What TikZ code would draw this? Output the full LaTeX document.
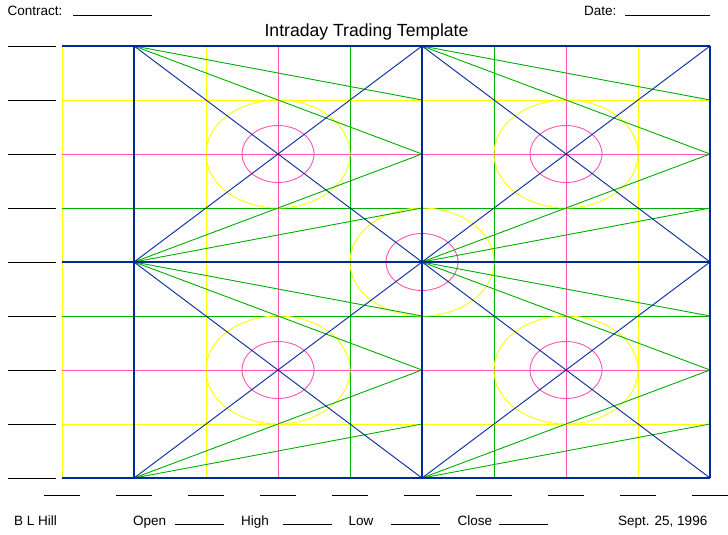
\documentclass[tikz,border=0pt]{standalone}
\usepackage{fontspec}
\setmainfont{Liberation Sans}
\definecolor{gblue}{RGB}{0,40,155}
\definecolor{ggreen}{RGB}{0,176,0}
\definecolor{gyellow}{RGB}{255,255,0}
\definecolor{gpink}{RGB}{255,85,176}
\begin{document}
\begin{tikzpicture}[x=1pt,y=-1pt,
  gline/.style={line width=0.9pt},
  yl/.style={gline,draw=gyellow},
  pk/.style={gline,draw=gpink},
  gr/.style={gline,draw=ggreen},
  bl/.style={gline,draw=gblue},
  bigblue/.style={draw=gblue,line width=2.9pt},
  tick/.style={draw=black,line width=0.9pt},
  lbl/.style={anchor=base west,inner sep=0pt,font=\fontsize{13.5}{15}\selectfont},
  ttl/.style={anchor=base,inner sep=0pt,font=\fontsize{17.6}{20}\selectfont}]
\useasboundingbox (0,0) rectangle (728,535);
\fill[white] (0,0) rectangle (728,535);
% grid points
\foreach \i in {0,...,9}
  \foreach \j in {0,...,8}
    \coordinate (g-\i-\j) at ({62+72*\i},{46+54*\j});
% thin vertical lines
\draw[yl] (g-0-0) -- (g-0-8);
\draw[yl] (g-2-0) -- (g-2-8);
\draw[pk] (g-3-0) -- (g-3-8);
\draw[gr] (g-4-0) -- (g-4-8);
\draw[gr] (g-6-0) -- (g-6-8);
\draw[pk] (g-7-0) -- (g-7-8);
\draw[yl] (g-8-0) -- (g-8-8);
% thin horizontal lines
\draw[yl] (g-0-1) -- (g-9-1);
\draw[pk] (g-0-2) -- (g-9-2);
\draw[gr] (g-0-3) -- (g-9-3);
\draw[gr] (g-0-5) -- (g-9-5);
\draw[pk] (g-0-6) -- (g-9-6);
\draw[yl] (g-0-7) -- (g-9-7);
% ellipses
\foreach \c in {g-3-2,g-7-2,g-3-6,g-7-6,g-5-4}{
  \draw[yl] (\c) ellipse [x radius=72pt, y radius=54pt];
  \draw[pk] (\c) ellipse [x radius=36pt, y radius=28.5pt];
}
% green fans and blue diagonals
\foreach \a/\b in {1/5,5/9}{
  \draw[gr] (g-\a-0) -- (g-\b-1);
  \draw[gr] (g-\a-0) -- (g-\b-2);
  \draw[gr] (g-\a-4) -- (g-\b-2);
  \draw[gr] (g-\a-4) -- (g-\b-3);
  \draw[gr] (g-\a-4) -- (g-\b-5);
  \draw[gr] (g-\a-4) -- (g-\b-6);
  \draw[gr] (g-\a-8) -- (g-\b-6);
  \draw[gr] (g-\a-8) -- (g-\b-7);
  \draw[bl] (g-\a-0) -- (g-\b-4);
  \draw[bl] (g-\a-4) -- (g-\b-0);
  \draw[bl] (g-\a-4) -- (g-\b-8);
  \draw[bl] (g-\a-8) -- (g-\b-4);
}
% thick blue lines
\draw[bigblue] (g-0-0) -- (g-9-0);
\draw[bigblue] (g-0-4) -- (g-9-4);
\draw[bigblue] (g-0-8) -- (g-9-8);
\draw[bigblue] (g-1-0) -- (g-1-8);
\draw[bigblue] (g-5-0) -- (g-5-8);
\draw[bigblue] (g-9-0) -- (g-9-8);
% left ticks
\foreach \j in {0,...,8}{
  \coordinate (lt-\j) at (7.5,{46+54*\j});
  \coordinate (rt-\j) at (55.5,{46+54*\j});
  \draw[tick] (lt-\j) -- (rt-\j);
}
% bottom ticks
\foreach \i in {0,...,9}{
  \coordinate (bl-\i) at ({44+72*\i},495.5);
  \coordinate (br-\i) at ({80+72*\i},495.5);
  \draw[tick] (bl-\i) -- (br-\i);
}
% header
\node[lbl] (contract) at (7.5,16) {Contract:};
\coordinate (c1) at (73,15.5); \coordinate (c2) at (152,15.5);
\draw[tick] (c1) -- (c2);
\node[lbl] (date) at (584,16) {Date:};
\coordinate (d1) at (625,15.5); \coordinate (d2) at (710,15.5);
\draw[tick] (d1) -- (d2);
\node[ttl] (title) at (366.5,36.5) {Intraday Trading Template};
% footer
\node[lbl] (author) at (14,525.5) {B L Hill};
\node[lbl] (open) at (133,525.5) {Open};
\coordinate (o1) at (175,524.5); \coordinate (o2) at (224,524.5);
\draw[tick] (o1) -- (o2);
\node[lbl] (high) at (241,525.5) {High};
\coordinate (h1) at (283,524.5); \coordinate (h2) at (332,524.5);
\draw[tick] (h1) -- (h2);
\node[lbl] (low) at (348.5,525.5) {Low};
\coordinate (l1) at (391,524.5); \coordinate (l2) at (440,524.5);
\draw[tick] (l1) -- (l2);
\node[lbl] (close) at (457.5,525.5) {Close};
\coordinate (k1) at (499,524.5); \coordinate (k2) at (548,524.5);
\draw[tick] (k1) -- (k2);
\node[lbl] (datefoot) at (618,525.5) {Sept. 25, 1996};
\end{tikzpicture}
\end{document}
